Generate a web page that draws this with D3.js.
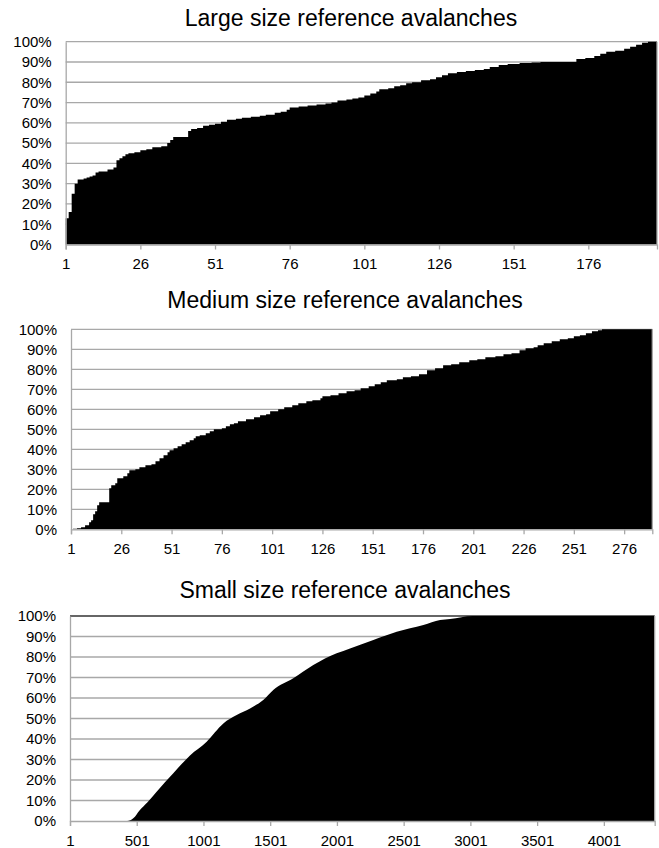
<!DOCTYPE html>
<html>
<head>
<meta charset="utf-8">
<script src="https://cdn.jsdelivr.net/npm/d3@7"></script>
<style>
  html, body { margin: 0; padding: 0; background: #fff; }
  svg text { font-family: "Liberation Sans", Arial, sans-serif; fill: #000; }
</style>
</head>
<body>
<svg id="chart" width="659" height="848"></svg>
<script>
// ---------- DATA ----------
const titles = ["Large size reference avalanches", "Medium size reference avalanches", "Small size reference avalanches"];
const yTickValues = [0, 10, 20, 30, 40, 50, 60, 70, 80, 90, 100];

// Large: 198 avalanches, cumulative % (run-length: first category of each plateau, and its value)
const largeCount = 198;
const largeStart = [1,2,3,4,5,7,8,9,10,11,12,15,17,18,19,20,21,22,24,26,28,30,33,35,36,37,42,43,45,47,49,51,53,55,58,60,63,66,68,71,73,75,76,79,82,85,88,90,92,95,97,99,101,103,105,106,109,111,113,115,117,120,123,125,127,129,132,135,138,141,143,146,149,153,157,160,172,175,178,180,182,185,188,190,192,194,196];
const largeValue = [13,16,25,30,32,32.5,33,33.5,34,35.5,36,37,38,41.5,42.5,43.5,44.5,45,45.5,46.5,47,48,48.5,50,51.5,53,56,57,57.5,58.5,59,59.5,60.5,61.5,62,62.5,63,63.5,64,65,65.5,66.5,67.5,68,68.5,69,69.5,70,71,71.5,72,72.5,73.5,74.5,75.5,76.5,77,78,78.5,79.5,80,81,81.5,82.5,83.5,84.5,85,85.5,86,86.5,87.5,88.5,89,89.5,89.8,90,91.5,92,93,94,95,95.5,96.5,97.5,98.5,99.5,100];
const largeTicks = [1, 26, 51, 76, 101, 126, 151, 176];

// Medium: 289 avalanches
const mediumCount = 289;
const mediumStart = [1,2,4,6,8,10,11,12,13,14,15,20,21,23,24,27,29,30,33,35,38,41,43,45,47,49,50,52,54,56,58,60,62,63,65,68,70,72,76,78,80,82,84,88,92,95,98,100,104,107,111,114,118,121,125,126,130,134,138,142,145,149,152,155,158,163,166,170,174,178,182,186,190,194,199,203,207,212,216,220,224,227,231,233,236,240,244,248,251,254,257,260,263,265];
const mediumValue = [0,0.3,0.5,1,2,3.5,4.5,7.5,9,12,13.5,20.5,22,23,25.5,26.5,28,29.5,30,31,32,32.5,34,35.5,37,38.5,39.5,40.5,41.5,42.5,43.5,44.5,45.5,46.5,47,48,49,50,50.5,51.5,52.5,53,54,55,56,57,57.5,59,60,61,62,63,64,64.5,65.5,66.5,67,68,69,69.5,70.5,71.5,72.5,73.5,74.5,75,76,76.5,77.5,79.5,80.5,82,82.5,83.5,84.5,85,86,86.5,87.5,88,89.5,90.5,91,92,93,94,95,95.5,96.5,97,98,99,99.5,100];
const mediumTicks = [1, 26, 51, 76, 101, 126, 151, 176, 201, 226, 251, 276];

// Small: 4381 avalanches, cumulative % read at these categories
const smallCount = 4381;
const smallIndex = [1,429,475,525,580,650,775,900,1025,1150,1250,1350,1449,1524,1674,1824,1999,2099,2274,2449,2649,2774,2849,3020,4381];
const smallValue = [0,0,1.3,5.4,9,14.3,23.3,32,38.7,47.6,51.7,54.9,59,63.9,69.6,76.1,81.8,84.2,88.3,92.3,95.6,98,98.5,100,100];
const smallTicks = [1, 501, 1001, 1501, 2001, 2501, 3001, 3501, 4001];

// ---------- HELPERS ----------
function expandRuns(count, starts, values) {
  const out = [];
  let j = 0;
  for (let i = 1; i <= count; i++) {
    while (j + 1 < starts.length && starts[j + 1] <= i) j++;
    out.push(values[j]);
  }
  return out;
}

const svg = d3.select("#chart");
const gridColor = "#a8a8a8";

function drawPanel(cfg) {
  const { title, titleX, titleY, left, right, top, bottom, count, ticks, topLineColor } = cfg;
  const g = svg.append("g");
  const x = d3.scaleLinear().domain([0, count]).range([left, right]);
  const y = d3.scaleLinear().domain([0, 100]).range([bottom, top]);

  // gridlines
  g.append("g").selectAll("line").data(yTickValues.filter(v => v > 0)).join("line")
    .attr("x1", left).attr("x2", right)
    .attr("y1", d => y(d)).attr("y2", d => y(d))
    .attr("stroke", d => (d === 100 && topLineColor) ? topLineColor : gridColor)
    .attr("stroke-width", 1.3);

  // area
  let pts, curve;
  if (cfg.values) {
    pts = cfg.values.map((v, i) => [i, v]);
    pts.push([count, cfg.values[cfg.values.length - 1]]);
    curve = d3.curveStepAfter;
  } else {
    pts = cfg.index.map((k, i) => [k - 1, cfg.pts[i]]);
    pts.push([count, cfg.pts[cfg.pts.length - 1]]);
    curve = d3.curveMonotoneX;
  }
  const area = d3.area().x(d => x(d[0])).y0(y(0)).y1(d => y(d[1])).curve(curve);
  g.append("path").datum(pts).attr("d", area).attr("fill", "#000");

  // right border
  g.append("line").attr("x1", right).attr("x2", right).attr("y1", top).attr("y2", bottom)
    .attr("stroke", gridColor).attr("stroke-width", 1.3);

  // y axis
  const ya = d3.axisLeft(y).tickValues(yTickValues).tickSize(0).tickPadding(14)
    .tickFormat(d => d + "%");
  const yg = g.append("g").attr("transform", `translate(${left},0)`).call(ya);
  yg.select(".domain").attr("stroke", gridColor).attr("stroke-width", 1.3);
  yg.selectAll("text").attr("font-size", 15).attr("font-family", '"Liberation Sans", Arial, sans-serif');

  // x axis
  const xa = d3.axisBottom(x).tickValues(ticks.map(t => t - 1)).tickSize(5).tickPadding(9)
    .tickFormat(d => d + 1);
  const xg = g.append("g").attr("transform", `translate(0,${bottom})`).call(xa);
  xg.select(".domain").attr("stroke", gridColor).attr("stroke-width", 1.3);
  xg.selectAll(".tick line").attr("stroke", gridColor).attr("stroke-width", 1.3);
  xg.selectAll("text").attr("font-size", 15).attr("font-family", '"Liberation Sans", Arial, sans-serif');

  // title
  g.append("text").attr("x", titleX).attr("y", titleY).attr("text-anchor", "middle")
    .attr("font-size", 23).text(title);
}

drawPanel({
  title: titles[0], titleX: 351, titleY: 26,
  left: 65.7, right: 657, top: 41.7, bottom: 244.5,
  count: largeCount, ticks: largeTicks,
  values: expandRuns(largeCount, largeStart, largeValue)
});
drawPanel({
  title: titles[1], titleX: 345, titleY: 308,
  left: 71, right: 652.3, top: 329.3, bottom: 529.3,
  count: mediumCount, ticks: mediumTicks,
  values: expandRuns(mediumCount, mediumStart, mediumValue)
});
drawPanel({
  title: titles[2], titleX: 345, titleY: 598,
  left: 70, right: 654.7, top: 616, bottom: 821,
  count: smallCount, ticks: smallTicks,
  index: smallIndex, pts: smallValue, topLineColor: "#333"
});
</script>
</body>
</html>
